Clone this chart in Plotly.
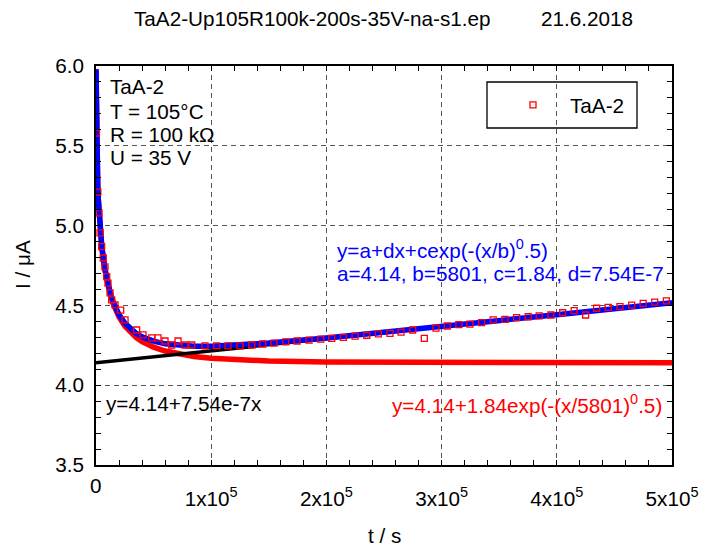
import plotly.graph_objects as go

# ---- data ----
meas_t = [400, 1600, 2600, 3500, 4900, 6300, 7800, 9300, 10400, 12200, 13600, 16500,
          21400, 25200, 35300, 40800, 48400, 53800, 59900, 65700, 71200, 77300, 83100,
          94600, 104800, 114600, 125000, 135200, 144700, 154500, 164700, 174500, 184900,
          195100, 204600, 214700, 224900, 235000, 245100, 255200, 264800, 274900, 285000,
          295100, 304900, 315000, 324600, 334700, 344800, 355000, 365100, 375200, 384700,
          394900, 405100, 415100, 425000, 434600, 444600, 454800, 465000, 475000, 485000,
          495100]
meas_I = [5.58, 5.21, 5.08, 4.955, 4.868, 4.797, 4.742, 4.680, 4.640, 4.578, 4.534, 4.503,
          4.471, 4.409, 4.346, 4.315, 4.296, 4.296, 4.277, 4.252, 4.277, 4.252, 4.252,
          4.246, 4.246, 4.246, 4.246, 4.252, 4.258, 4.264, 4.271, 4.277, 4.283,
          4.289, 4.294, 4.300, 4.308, 4.313, 4.321, 4.325, 4.333, 4.346, 4.294,
          4.357, 4.371, 4.379, 4.383, 4.392, 4.409, 4.413, 4.423, 4.429, 4.434,
          4.440, 4.454, 4.467, 4.440, 4.482, 4.488, 4.492, 4.502, 4.513, 4.521,
          4.528]

fit_t = [0, 100, 250, 500, 1000, 1500, 2000, 3000, 4000, 5000, 7500, 10000, 12500, 15000,
         20000, 25000, 30000, 35000, 40000, 50000, 60000, 70000, 85000, 100000, 125000,
         150000, 200000, 250000, 300000, 400000, 500000]
decay_fit = [5.98, 5.754, 5.635, 5.512, 5.355, 5.247, 5.163, 5.036, 4.942, 4.867, 4.730,
             4.635, 4.564, 4.509, 4.427, 4.371, 4.329, 4.298, 4.273, 4.238, 4.214, 4.197,
             4.180, 4.169, 4.158, 4.151, 4.145, 4.143, 4.141, 4.140, 4.140]
full_fit = [5.98, 5.754, 5.635, 5.512, 5.356, 5.248, 5.165, 5.038, 4.945, 4.871, 4.736,
            4.643, 4.573, 4.520, 4.442, 4.389, 4.352, 4.324, 4.303, 4.276, 4.259, 4.250,
            4.244, 4.244, 4.252, 4.264, 4.296, 4.331, 4.367, 4.442, 4.517]
lin_t = [0, 500000]
lin_I = [4.14, 4.517]

x_tickvals = [100000, 200000, 300000, 400000, 500000]
x_ticktext = ["1x10<sup>5</sup>", "2x10<sup>5</sup>", "3x10<sup>5</sup>",
              "4x10<sup>5</sup>", "5x10<sup>5</sup>"]
y_tickvals = [3.5, 4.0, 4.5, 5.0, 5.5, 6.0]

FONT = "Liberation Sans"
FS = 20.7
W, H = 701, 547
L, R, T, B = 96, 672, 66, 465


def px(x):
    return (x - L) / (R - L)


def py(y):
    return (B - y) / (B - T)


fig = go.Figure()
fig.add_trace(go.Scatter(x=fit_t, y=decay_fit, mode="lines",
                         line=dict(color="#ff0000", width=5.5), showlegend=False))
fig.add_trace(go.Scatter(x=lin_t, y=lin_I, mode="lines",
                         line=dict(color="#000000", width=3.5), showlegend=False))
fig.add_trace(go.Scatter(x=fit_t, y=full_fit, mode="lines",
                         line=dict(color="#0000ff", width=5.5), showlegend=False))
fig.add_trace(go.Scatter(x=meas_t, y=meas_I, mode="markers", name="TaA-2",
                         marker=dict(symbol="square-open", size=6, color="#ff0000",
                                     line=dict(width=1.3, color="#ff0000"))))

axis_common = dict(showline=True, linecolor="black", linewidth=1.5, mirror="ticks",
                   ticks="inside", ticklen=5, tickcolor="black", tickwidth=1,
                   showgrid=True, gridcolor="#555555", griddash="5px,4px", gridwidth=1,
                   zeroline=False, automargin=False,
                   tickfont=dict(family=FONT, size=FS, color="black"))

fig.update_layout(
    width=W, height=H,
    margin=dict(l=L, r=W - R, t=T, b=H - B, autoexpand=False),
    paper_bgcolor="white", plot_bgcolor="white",
    font=dict(family=FONT, size=FS, color="black"),
    xaxis=dict(range=[0, 500000], tickvals=x_tickvals, ticktext=x_ticktext,
               minor=dict(ticks="inside", ticklen=5, dtick=20000, tick0=0,
                          tickcolor="black", showgrid=False),
               ticklabelstandoff=14, **axis_common),
    yaxis=dict(range=[3.5, 6.0], tickvals=y_tickvals, tickformat=".1f",
               minor=dict(ticks="inside", ticklen=5, dtick=0.1, tick0=3.5,
                          tickcolor="black", showgrid=False),
               ticklabelstandoff=6, **axis_common),
    legend=dict(x=px(496), y=py(105), xanchor="left", yanchor="middle",
                bgcolor="rgba(0,0,0,0)", borderwidth=0, itemwidth=64,
                font=dict(family=FONT, size=FS, color="black")),
    showlegend=True,
)

# legend frame
fig.add_shape(type="rect", xref="paper", yref="paper",
              x0=px(487), x1=px(637), y0=py(128), y1=py(82),
              line=dict(color="black", width=1.3), fillcolor="white", layer="below")

ann = []


def add(text, x, y, xa="left", ya="middle", color="black", size=FS, angle=0):
    ann.append(dict(text=text, x=px(x), y=py(y), xref="paper", yref="paper",
                    xanchor=xa, yanchor=ya, showarrow=False, textangle=angle,
                    font=dict(family=FONT, size=size, color=color)))


add("TaA2-Up105R100k-200s-35V-na-s1.ep", 312, 18, xa="center")
add("21.6.2018", 587, 18, xa="center")
add("TaA-2", 108, 86)
add("T = 105°C", 108, 111)
add("R = 100 kΩ", 108, 134)
add("U = 35 V", 108, 157)
add("y=a+dx+cexp(-(x/b)<sup>0</sup>.5)", 335, 249, color="#0000ff")
add("a=4.14, b=5801, c=1.84, d=7.54E-7", 335, 273, color="#0000ff")
add("y=4.14+7.54e-7x", 104, 403)
add("y=4.14+1.84exp(-(x/5801)<sup>0</sup>.5)", 664, 404, xa="right", color="#ff0000")
add("0", 96, 485, xa="center")
add("t / s", 384, 535, xa="center")
add("I / μA", 22, 265, xa="center", angle=-90)
fig.update_layout(annotations=ann)

fig.write_html("out.html")
